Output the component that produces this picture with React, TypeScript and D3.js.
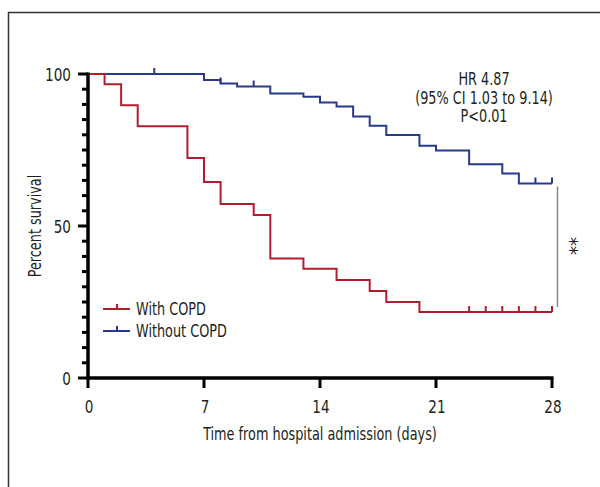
import React, { useEffect, useRef } from 'react';
import * as d3 from 'd3';

// x ticks (days) and y ticks (percent)
const dayTicks = [0, 7, 14, 21, 28];
const pctTicks = [0, 50, 100];
const minorPct = d3.range(0, 101, 5);

// With COPD: step times and survival after each step
const copdTimes = [0, 1, 2, 3, 6, 7, 8, 10, 11, 13, 15, 17, 18, 20, 28];
const copdSurv = [100, 96.6, 89.7, 82.8, 72.4, 64.5, 57.2, 53.6, 39.3, 35.9, 32.2, 28.6, 25.0, 21.7, 21.7];
const copdCensor = [23, 24, 25, 26, 27, 28];

// Without COPD
const noCopdTimes = [0, 7, 8, 9, 11, 13, 14, 15, 16, 17, 18, 20, 21, 23, 25, 26, 28];
const noCopdSurv = [100, 98, 96.9, 95.9, 93.6, 92.5, 90.6, 89.3, 86, 83, 79.9, 76.4, 74.8, 70.3, 67.3, 64, 64];
const noCopdCensor = [4, 8, 10, 27, 28];

const annotation = ['HR 4.87', '(95% CI 1.03 to 9.14)', 'P<0.01'];

const RED = '#b01e2d';
const BLUE = '#293a8c';
const FONT = '"DejaVu Sans Condensed", "Roboto", sans-serif';
const SX = 0.84; // squeeze text to look like a condensed face

const series = [
  { name: 'With COPD', times: copdTimes, surv: copdSurv, censor: copdCensor, color: RED },
  { name: 'Without COPD', times: noCopdTimes, surv: noCopdSurv, censor: noCopdCensor, color: BLUE },
];

const survAt = (times, surv, t) => {
  let v = surv[0];
  times.forEach((tt, i) => { if (tt <= t) v = surv[i]; });
  return v;
};

// condensed text helper
const addText = (g, str, x, y, anchor = 'middle', size = 16, rot = 0) =>
  g.append('text')
    .attr('transform', `translate(${x},${y}) rotate(${rot}) scale(${SX},1)`)
    .attr('text-anchor', anchor)
    .attr('font-family', FONT)
    .attr('font-size', size)
    .attr('fill', '#231f20')
    .text(str);

const KMChart = () => {
  const ref = useRef();

  useEffect(() => {
    const svg = d3.select(ref.current);
    svg.selectAll('*').remove();

    const x = d3.scaleLinear().domain([0, 28]).range([88, 552]);
    const y = d3.scaleLinear().domain([0, 100]).range([378, 74]);

    // outer frame
    svg.append('rect')
      .attr('x', 8.5).attr('y', 12.5)
      .attr('width', 620).attr('height', 500)
      .attr('fill', 'none').attr('stroke', '#333').attr('stroke-width', 1.5);

    const line = d3.line()
      .x(d => x(d[0]))
      .y(d => y(d[1]))
      .curve(d3.curveStepAfter);

    // draw blue first so red sits on top at 100%
    [...series].reverse().forEach(s => {
      const pts = s.times.map((t, i) => [t, s.surv[i]]);
      svg.append('path')
        .datum(pts)
        .attr('fill', 'none')
        .attr('stroke', s.color)
        .attr('stroke-width', 2)
        .attr('d', line);

      svg.append('g')
        .selectAll('line')
        .data(s.censor)
        .enter()
        .append('line')
        .attr('x1', d => x(d)).attr('x2', d => x(d))
        .attr('y1', d => y(survAt(s.times, s.surv, d)))
        .attr('y2', d => y(survAt(s.times, s.surv, d)) - 6)
        .attr('stroke', s.color)
        .attr('stroke-width', 2);
    });

    // y axis
    const yAxis = svg.append('g');
    yAxis.append('line')
      .attr('x1', 88).attr('x2', 88)
      .attr('y1', y(100) - 1.5).attr('y2', y(0) + 1.5)
      .attr('stroke', '#000').attr('stroke-width', 3.5);
    yAxis.selectAll('.minor')
      .data(minorPct)
      .enter()
      .append('line')
      .attr('x1', d => (pctTicks.includes(d) ? 78 : 82))
      .attr('x2', 88)
      .attr('y1', d => y(d)).attr('y2', d => y(d))
      .attr('stroke', '#000').attr('stroke-width', 3);
    pctTicks.forEach(d => addText(yAxis, d, 71, y(d) + 6.5, 'end', 18));

    // x axis
    const xAxis = svg.append('g');
    xAxis.append('line')
      .attr('x1', 86.5).attr('x2', x(28) + 1.5)
      .attr('y1', y(0)).attr('y2', y(0))
      .attr('stroke', '#000').attr('stroke-width', 3.5);
    xAxis.selectAll('.tick')
      .data(dayTicks)
      .enter()
      .append('line')
      .attr('x1', d => x(d)).attr('x2', d => x(d))
      .attr('y1', y(0)).attr('y2', y(0) + 10)
      .attr('stroke', '#000').attr('stroke-width', 3);
    dayTicks.forEach(d => addText(xAxis, d, x(d) + 1, 413, 'middle', 18));

    // axis titles
    addText(svg, 'Time from hospital admission (days)', 320, 440, 'middle', 17);
    addText(svg, 'Percent survival', 41, 226, 'middle', 17, -90);

    // HR annotation
    annotation.forEach((d, i) => addText(svg, d, 484, 85 + i * 18.5, 'middle', 17));

    // significance bracket
    svg.append('line')
      .attr('x1', 557.5).attr('x2', 557.5)
      .attr('y1', y(survAt(noCopdTimes, noCopdSurv, 28)) + 3)
      .attr('y2', y(survAt(copdTimes, copdSurv, 28)) - 5)
      .attr('stroke', '#888').attr('stroke-width', 1.5);
    svg.append('text')
      .attr('transform', 'translate(564,246) rotate(90)')
      .attr('text-anchor', 'middle')
      .attr('font-family', FONT).attr('font-size', 20).attr('fill', '#231f20')
      .text('**');

    // legend
    const legend = svg.append('g');
    series.forEach((s, i) => {
      const ly = 309 + i * 22;
      legend.append('line')
        .attr('x1', 103).attr('x2', 130).attr('y1', ly).attr('y2', ly)
        .attr('stroke', s.color).attr('stroke-width', 2);
      legend.append('line')
        .attr('x1', 117).attr('x2', 117).attr('y1', ly).attr('y2', ly - 5)
        .attr('stroke', s.color).attr('stroke-width', 2);
      addText(legend, s.name, 136, ly + 6, 'start', 17);
    });
  }, []);

  return (
    <svg ref={ref} width={600} height={487}
      style={{ position: 'absolute', left: 0, top: 0, background: '#fff' }}></svg>
  );
};

export default function App() {
  return <KMChart />;
}
